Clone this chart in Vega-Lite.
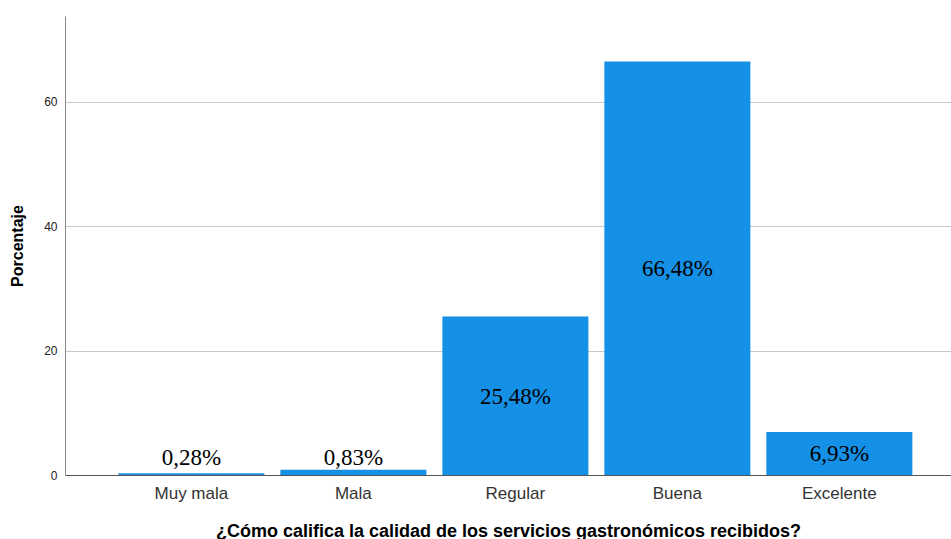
{
  "$schema": "https://vega.github.io/schema/vega-lite/v6.json",
  "autosize": {"type": "none"},
  "width": 886,
  "height": 459,
  "padding": {"left": 65, "top": 16, "right": 0, "bottom": 64},
  "background": "white",
  "config": {"view": {"stroke": null}},
  "data": {
    "values": [
      {"cat": "Muy mala", "pct": 0.28, "label": "0,28%"},
      {"cat": "Mala", "pct": 0.83, "label": "0,83%"},
      {"cat": "Regular", "pct": 25.48, "label": "25,48%"},
      {"cat": "Buena", "pct": 66.48, "label": "66,48%"},
      {"cat": "Excelente", "pct": 6.93, "label": "6,93%"}
    ]
  },
  "encoding": {
    "x": {
      "field": "cat",
      "type": "nominal",
      "sort": null,
      "scale": {"paddingInner": 0.0988, "paddingOuter": 0.284, "align": 0.58},
      "axis": {
        "title": "¿Cómo califica la calidad de los servicios gastronómicos recibidos?",
        "titleFont": "Liberation Sans",
        "titleFontSize": 18,
        "titleFontWeight": "bold",
        "titleColor": "#000000",
        "titlePadding": 21,
        "labelFont": "Liberation Sans",
        "labelFontSize": 17,
        "labelColor": "#333333",
        "labelAngle": 0,
        "labelPadding": 10,
        "ticks": false,
        "domainColor": "#555555",
        "domainWidth": 1
      }
    }
  },
  "layer": [
    {
      "mark": {"type": "bar", "color": "#1490E6"},
      "encoding": {
        "y": {
          "field": "pct",
          "type": "quantitative",
          "scale": {"domain": [0, 73.8], "nice": false},
          "axis": {
            "title": "Porcentaje",
            "titleFont": "Liberation Sans",
            "titleFontSize": 16,
            "titleFontWeight": "bold",
            "titleColor": "#000000",
            "titlePadding": 18,
            "labelFont": "Liberation Sans",
            "labelFontSize": 12,
            "labelColor": "#222222",
            "labelPadding": 8,
            "values": [0, 20, 40, 60],
            "ticks": false,
            "domainColor": "#888888",
            "gridColor": "#c8c8c8",
            "gridWidth": 1
          }
        }
      }
    },
    {
      "transform": [{"calculate": "max(datum.pct / 2, 2.9)", "as": "labelY"}],
      "mark": {"type": "text", "font": "Liberation Serif", "fontSize": 23, "color": "#000000", "baseline": "middle", "dy": 1},
      "encoding": {
        "y": {"field": "labelY", "type": "quantitative"},
        "text": {"field": "label"}
      }
    }
  ]
}
